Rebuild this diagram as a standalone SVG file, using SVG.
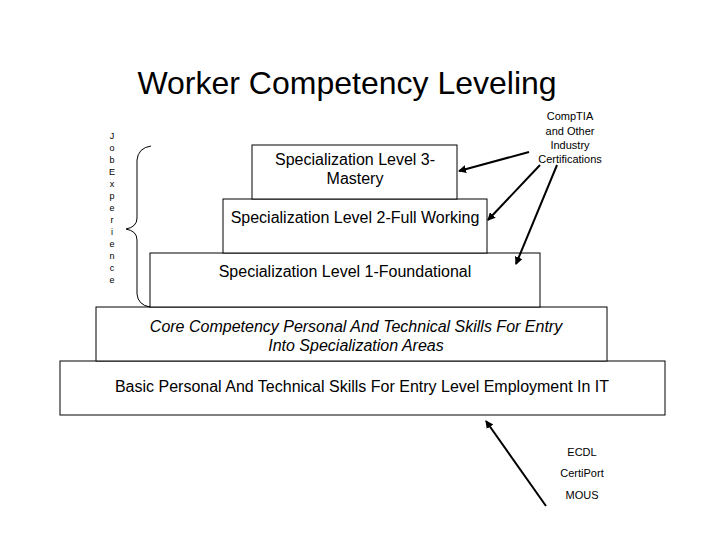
<svg xmlns="http://www.w3.org/2000/svg" width="720" height="540" viewBox="0 0 720 540">
<style>
text{font-family:"Liberation Sans",Arial,sans-serif;fill:#000}
.box{fill:#fff;stroke:#000;stroke-width:1}
.m{font-size:16px;text-anchor:middle}
.s{font-size:11px;text-anchor:middle}
.v{font-size:9px;text-anchor:middle}
.c{stroke:#000;stroke-width:2;fill:none;marker-end:url(#ah)}
</style>
<defs><marker id="ah" markerWidth="8" markerHeight="8" refX="7" refY="4" orient="auto" markerUnits="userSpaceOnUse"><path d="M0,0L8,4L0,8z" fill="#000"/></marker></defs>
<rect width="720" height="540" fill="#fff"/>
<text x="347" y="94" font-size="32" text-anchor="middle">Worker Competency Leveling</text>
<g id="basic"><rect class="box" x="60" y="361" width="605" height="54"/><text class="m" x="362" y="392">Basic Personal And Technical Skills For Entry Level Employment In IT</text></g>
<g id="core"><rect class="box" x="96" y="307" width="511" height="54"/><text class="m" x="356" y="332" font-style="italic">Core Competency Personal And Technical Skills For Entry</text><text class="m" x="356" y="351" font-style="italic">Into Specialization Areas</text></g>
<g id="l1"><rect class="box" x="150" y="253" width="390" height="54"/><text class="m" x="345" y="277">Specialization Level 1-Foundational</text></g>
<g id="l2"><rect class="box" x="223" y="199" width="264" height="54"/><text class="m" x="355" y="223">Specialization Level 2-Full Working</text></g>
<g id="l3"><rect class="box" x="252" y="145" width="205" height="54"/><text class="m" x="355" y="165">Specialization Level 3-</text><text class="m" x="355" y="184">Mastery</text></g>
<g id="cert"><text class="s" x="570" y="120">CompTIA</text><text class="s" x="570" y="135">and Other</text><text class="s" x="570" y="149">Industry</text><text class="s" x="570" y="163">Certifications</text></g>
<g id="bottom"><text class="s" x="582" y="456">ECDL</text><text class="s" x="582" y="477">CertiPort</text><text class="s" x="582" y="499">MOUS</text></g>
<g id="job"><text class="v" x="112" y="139">J</text><text class="v" x="112" y="151">o</text><text class="v" x="112" y="163">b</text><text class="v" x="112" y="175">E</text><text class="v" x="112" y="187">x</text><text class="v" x="112" y="199">p</text><text class="v" x="112" y="211">e</text><text class="v" x="112" y="223">r</text><text class="v" x="112" y="235">i</text><text class="v" x="112" y="247">e</text><text class="v" x="112" y="259">n</text><text class="v" x="112" y="271">c</text><text class="v" x="112" y="283">e</text></g>
<g id="connectors">
<path d="M151,146 Q138,148 137,160 L137,218 Q137,227 126,229 Q137,231 137,240 L137,294 Q138,305 150,307" fill="none" stroke="#000" stroke-width="1"/>
<line class="c" x1="529" y1="152" x2="459" y2="171"/>
<line class="c" x1="540" y1="165" x2="488" y2="220"/>
<line class="c" x1="557" y1="165" x2="516" y2="264"/>
<line class="c" x1="546" y1="506" x2="486" y2="421"/>
</g>
</svg>
